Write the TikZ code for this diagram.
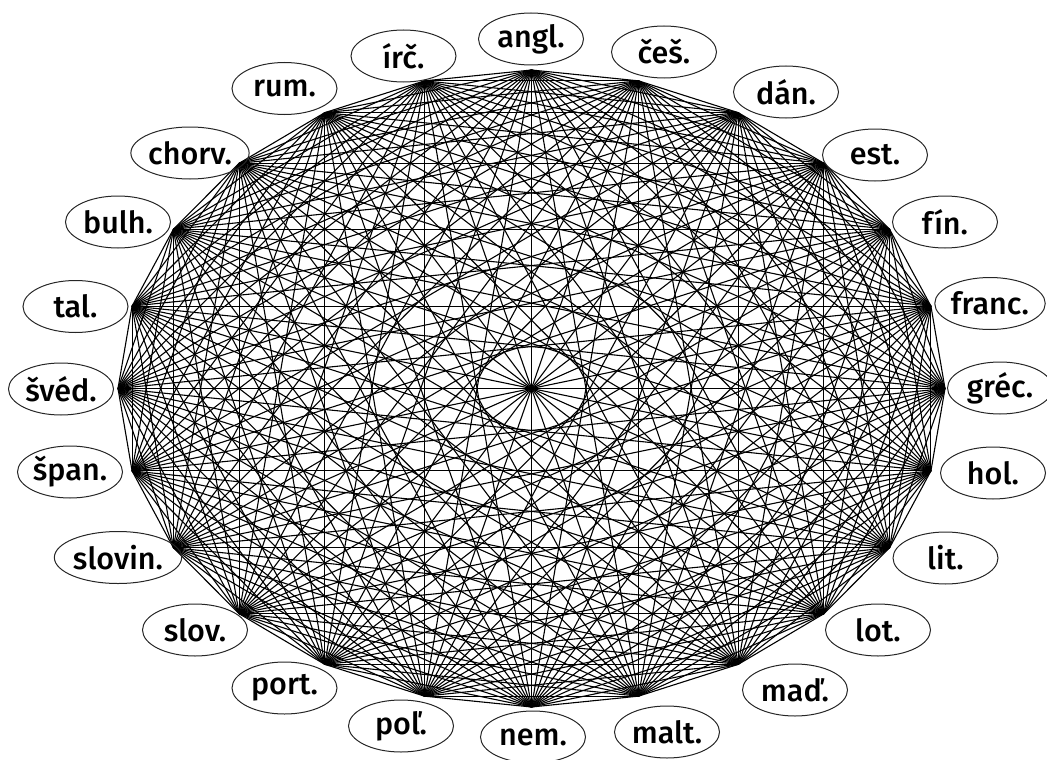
\documentclass[tikz,border=0pt]{standalone}
\usepackage{fontspec}
\setmainfont{Fira Sans}[UprightFont=* Medium]
\usepackage{tikz}
\usetikzlibrary{shapes.geometric}

\begin{document}
\begin{tikzpicture}[x=1pt,y=-1pt,
  lang/.style={draw=black!85,line width=1pt,ellipse,inner sep=0pt,
    minimum width=105pt,minimum height=52pt,
    font=\fontsize{30.5}{32}\selectfont},
  edge/.style={line width=1.1pt,black}
]
\useasboundingbox (0,0) rectangle (1047,760);
% Vertices on an ellipse, angl. at the top, clockwise.
\foreach \i in {0,...,23}
  \coordinate (v\i) at ({531.5+413.5*cos(90-15*\i)},{388.5-318.5*sin(90-15*\i)});

% Complete graph: every pair of languages.
\foreach \i in {0,...,22}{
  \pgfmathtruncatemacro\k{\i+1}
  \foreach \j in {\k,...,23}
    \draw[edge] (v\i) -- (v\j);
}

% Language labels.
\foreach \i/\name/\lx/\ly in {
  0/angl./531/39, 1/češ./664/52, 2/dán./786/92, 3/est./875/155,
  4/fín./945/222, 5/franc./990/303.5, 6/gréc./1000/388, 7/hol./993/473,
  8/lit./945.5/558, 9/lot./878/630, 10/maď./795/690, 11/malt./667/732,
  12/nem./533/737, 13/poľ./401/726, 14/port./284.5/688, 15/slov./195/630,
  16/slovin./118/557.5, 17/špan./70/472, 18/švéd./61/389, 19/tal./75.5/306.5,
  20/bulh./118/222, 21/chorv./190/153, 22/rum./284.5/88.5, 23/írč./403.5/56}
  \node[lang] (l\i) at (\lx,\ly) {\name};
\end{tikzpicture}
\end{document}
